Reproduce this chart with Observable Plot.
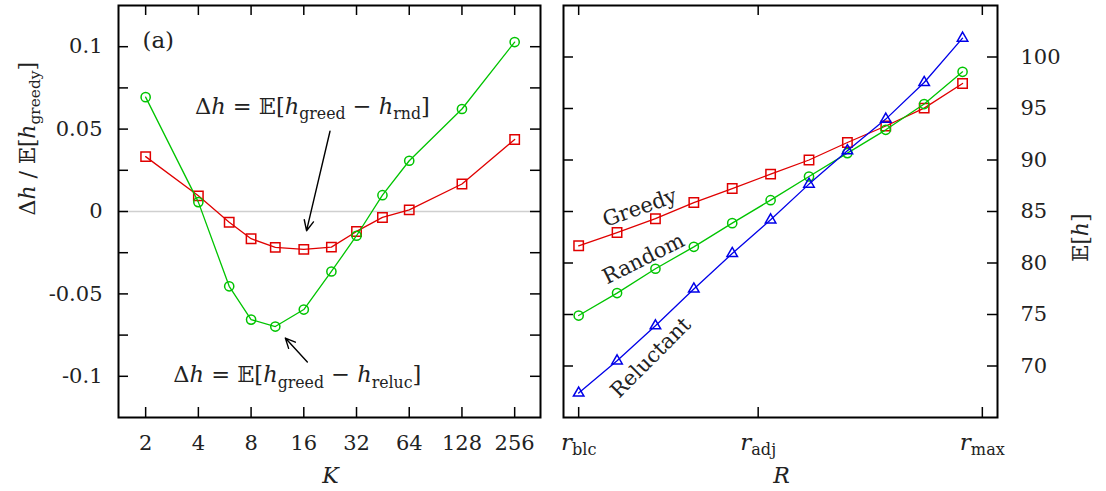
<!DOCTYPE html>
<html><head><meta charset="utf-8">
<script src="https://cdn.jsdelivr.net/npm/d3@7"></script>
<script src="https://cdn.jsdelivr.net/npm/@observablehq/plot@0.6"></script>
<style>
html,body{margin:0;padding:0;background:#fff;}
#wrap{display:flex;width:1106px;height:491px;}
svg{font-family:"DejaVu Serif",serif;}
</style></head><body><div id="wrap"></div>
<script>
// ---------- Panel (a): relative difference vs K ----------
const K = [2, 4, 6, 8, 11, 16, 23, 32, 45, 64, 128, 256];
const diffRnd = [0.0333, 0.0095, -0.0065, -0.0165, -0.0218, -0.0230, -0.0216, -0.0121, -0.0036, 0.0010, 0.0167, 0.0437];
const diffReluc = [0.0694, 0.0057, -0.0454, -0.0656, -0.0698, -0.0595, -0.0364, -0.0147, 0.0099, 0.0308, 0.0622, 0.1028];
const kTicks = [2, 4, 8, 16, 32, 64, 128, 256];
const yLabelTicksA = [-0.1, -0.05, 0, 0.05, 0.1];
const yTicksA = [-0.1, -0.075, -0.05, -0.025, 0, 0.025, 0.05, 0.075, 0.1];

// ---------- Panel (b): E[h] vs R ----------
const Rindex = [0, 1, 2, 3, 4, 5, 6, 7, 8, 9, 10];
const greedy = [81.67, 82.96, 84.30, 85.87, 87.23, 88.63, 90.00, 91.70, 93.30, 95.04, 97.43];
const random = [74.90, 77.08, 79.44, 81.57, 83.87, 86.10, 88.40, 90.67, 92.93, 95.43, 98.56];
const reluctant = [67.37, 70.50, 73.90, 77.47, 80.92, 84.19, 87.66, 90.90, 93.97, 97.52, 101.83];
const rTicks = [0, 4.676, 10.515];
const rTickLabels = ["*r*_{blc}", "*r*_{adj}", "*r*_{max}"];
const yTicksB = [70, 75, 80, 85, 90, 95, 100];

// annotations (data coordinates)
const annotA = [
  {x: 17.9, y: 0.0638, label: "Δ*h* = 𝔼[*h*_{greed} − *h*_{rnd}]", size: 22.5},
  {x: 14.69, y: -0.0992, label: "Δ*h* = 𝔼[*h*_{greed} − *h*_{reluc}]", size: 22.5},
  {x: 2.36, y: 0.1036, label: "(a)", size: 23}
];
const arrowsA = [
  {x1: 22.58, y1: 0.0487, x2: 16.59, y2: -0.01165},
  {x1: 16.76, y1: -0.0913, x2: 12.55, y2: -0.0768}
];
const seriesLabelsB = [
  {x: 1.59, y: 85.36, label: "Greedy", rotate: -19.6},
  {x: 1.69, y: 80.41, label: "Random", rotate: -26.6},
  {x: 1.875, y: 70.8, label: "Reluctant", rotate: -45}
];

const RED = "#e00000", GREEN = "#00c400", BLUE = "#0000e8";
const FS = 21;
const INK = "#222";

// ---------- helpers for math-like text ----------
function parseMarkup(s) {
  const parts = []; let buf = ""; let i = 0;
  const flush = () => { if (buf) { parts.push({t: buf}); buf = ""; } };
  while (i < s.length) {
    const c = s[i];
    if (c === "*") { flush(); const j = s.indexOf("*", i + 1); parts.push({t: s.slice(i + 1, j), it: true}); i = j + 1; }
    else if (c === "_" && s[i + 1] === "{") { flush(); const j = s.indexOf("}", i + 2); parts.push({t: s.slice(i + 2, j), sub: true}); i = j + 1; }
    else { buf += c; i++; }
  }
  flush();
  return parts;
}
const plain = s => parseMarkup(s).map(p => p.t).join("");
const richMap = new Map();
function reg(s) { richMap.set(plain(s), parseMarkup(s)); return plain(s); }
function richify(svg) {
  d3.select(svg).selectAll("text").each(function () {
    if (this.querySelector("tspan")) return;
    const parts = richMap.get(this.textContent);
    if (!parts) return;
    const fs = parseFloat(getComputedStyle(this).fontSize) || FS;
    const sel = d3.select(this); sel.text(null);
    let shifted = false;
    const shift = fs * 0.24;
    for (const p of parts) {
      const ts = sel.append("tspan").text(p.t);
      if (p.it) ts.attr("font-style", "italic");
      if (p.sub) { ts.attr("font-size", (fs * 0.7) + "px"); if (!shifted) ts.attr("dy", shift); shifted = true; }
      else if (shifted) { ts.attr("dy", -shift); shifted = false; }
    }
  });
}

const dataA_rnd = K.map((k, i) => ({k, v: diffRnd[i]}));
const dataA_rel = K.map((k, i) => ({k, v: diffReluc[i]}));
annotA.forEach(d => d.text = reg(d.label));
const yLabA = reg("Δ*h* / 𝔼[*h*_{greedy}]");
const xLabA = reg("*K*");

const fmtA = d => d === 0 ? "0" : String(d);

const frameWA = 422, frameH = 412, TL = 10;

const left = Plot.plot({
  width: 550, height: 491,
  marginLeft: 118, marginRight: 10, marginTop: 5, marginBottom: 74,
  style: {fontFamily: "DejaVu Serif", fontSize: FS + "px", color: INK, background: "white"},
  x: {type: "log", base: 2, domain: [2 ** 0.485, 2 ** 8.49]},
  y: {domain: [-0.125, 0.125]},
  marks: [
    Plot.ruleY([0], {stroke: "#cfcfcf", strokeWidth: 1.5}),
    Plot.tickY(yTicksA, {y: d => d, insetRight: frameWA - TL, stroke: "black", strokeWidth: 1.5}),
    Plot.tickY(yTicksA, {y: d => d, insetLeft: frameWA - TL, stroke: "black", strokeWidth: 1.5}),
    Plot.tickX(kTicks, {x: d => d, insetTop: frameH - TL, stroke: "black", strokeWidth: 1.5}),
    Plot.tickX(kTicks, {x: d => d, insetBottom: frameH - TL, stroke: "black", strokeWidth: 1.5}),
    Plot.axisX(kTicks, {tickSize: 0, tickPadding: 18, tickFormat: d => String(d), label: null, fontSize: FS, fill: INK}),
    Plot.axisY(yLabelTicksA, {tickSize: 0, tickPadding: 16, tickFormat: fmtA, label: null, fontSize: FS, fill: INK}),
    Plot.line(dataA_rnd, {x: "k", y: "v", stroke: RED, strokeWidth: 1.3}),
    Plot.dot(dataA_rnd, {x: "k", y: "v", symbol: "square", r: 5.3, stroke: RED, strokeWidth: 1.5, fill: "none"}),
    Plot.line(dataA_rel, {x: "k", y: "v", stroke: GREEN, strokeWidth: 1.3}),
    Plot.dot(dataA_rel, {x: "k", y: "v", symbol: "circle", r: 4.6, stroke: GREEN, strokeWidth: 1.5, fill: "none"}),
    Plot.arrow(arrowsA, {x1: "x1", y1: "y1", x2: "x2", y2: "y2", stroke: "black", strokeWidth: 1.4, headLength: 12, headAngle: 50}),
    Plot.text(annotA, {x: "x", y: "y", text: "text", fontSize: d => d.size, fill: INK, lineAnchor: "middle"}),
    Plot.text([yLabA], {frameAnchor: "left", dx: -91, dy: 4, rotate: -90, fontSize: 22, fill: INK}),
    Plot.text([xLabA], {frameAnchor: "bottom", dy: 65, dx: 1, fontSize: 22, fill: INK}),
    Plot.frame({stroke: "black", strokeWidth: 2})
  ]
});

const dataB = [
  {vals: greedy, color: RED, symbol: "square", r: 5.3},
  {vals: random, color: GREEN, symbol: "circle", r: 4.6},
  {vals: reluctant, color: BLUE, symbol: "triangle", r: 3.9}
].map(s => ({...s, rows: Rindex.map((x, i) => ({x, v: s.vals[i]}))}));
const rTickPlain = rTickLabels.map(reg);
const yLabB = reg("𝔼[*h*]");
const xLabB = reg("*R*");

const frameWB = 434;
const marksB = [
  Plot.tickY(yTicksB, {y: d => d, insetRight: frameWB - TL, stroke: "black", strokeWidth: 1.5}),
  Plot.tickY(yTicksB, {y: d => d, insetLeft: frameWB - TL, stroke: "black", strokeWidth: 1.5}),
  Plot.tickX(rTicks, {x: d => d, insetTop: frameH - TL, stroke: "black", strokeWidth: 1.5}),
  Plot.tickX(rTicks, {x: d => d, insetBottom: frameH - TL, stroke: "black", strokeWidth: 1.5}),
  Plot.axisX(rTicks, {tickSize: 0, tickPadding: 16, tickFormat: (d, i) => rTickPlain[i], label: null, fontSize: 23, fill: INK}),
  Plot.axisY(yTicksB, {anchor: "right", tickSize: 0, tickPadding: 23, tickFormat: d => String(d), label: null, fontSize: FS, fill: INK})
];
for (const s of dataB) {
  marksB.push(Plot.line(s.rows, {x: "x", y: "v", stroke: s.color, strokeWidth: 1.3}));
  marksB.push(Plot.dot(s.rows, {x: "x", y: "v", symbol: s.symbol, r: s.r, stroke: s.color, strokeWidth: 1.5, fill: "none"}));
}
for (const l of seriesLabelsB) {
  marksB.push(Plot.text([l], {x: "x", y: "y", text: "label", rotate: l.rotate, fontSize: FS, fill: INK, lineAnchor: "middle"}));
}
marksB.push(
  Plot.text([yLabB], {frameAnchor: "right", dx: 83, dy: 2, rotate: -90, fontSize: 22, fill: INK}),
  Plot.text([xLabB], {frameAnchor: "bottom", dy: 65, dx: 1, fontSize: 22, fill: INK}),
  Plot.frame({stroke: "black", strokeWidth: 2})
);

const right = Plot.plot({
  width: 556, height: 491,
  marginLeft: 13, marginRight: 109, marginTop: 5, marginBottom: 74,
  style: {fontFamily: "DejaVu Serif", fontSize: FS + "px", color: INK, background: "white"},
  x: {domain: [-0.395, 10.91]},
  y: {domain: [65, 105]},
  marks: marksB
});

const wrap = document.getElementById("wrap");
wrap.append(left, right);
richify(left); richify(right);
</script>
</body></html>
